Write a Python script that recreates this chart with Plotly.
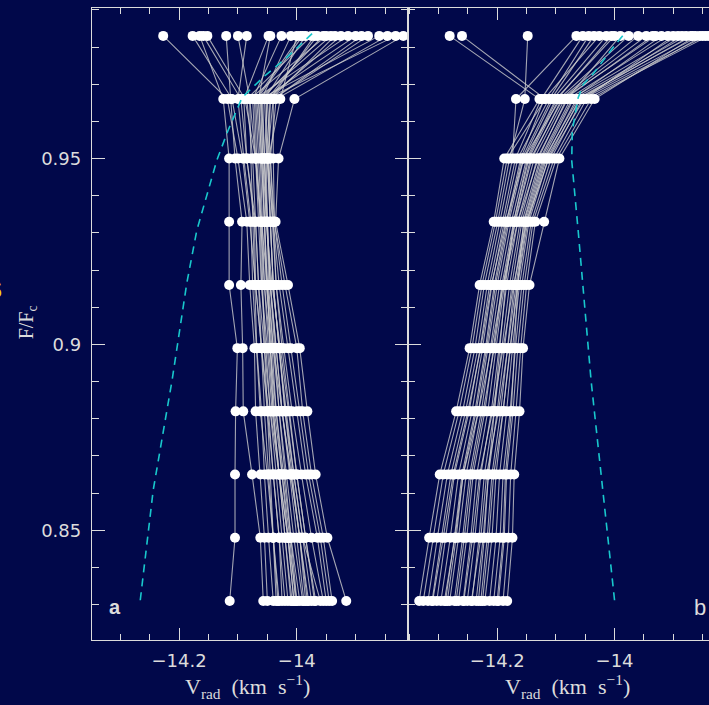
import plotly.graph_objects as go

# Flux levels (F/Fc) at which the bisector points are measured (top -> bottom)
LEVELS = [0.983, 0.966, 0.950, 0.933, 0.916, 0.899, 0.882, 0.865, 0.848, 0.831]

# Panel a: bisector velocities (km/s), one list per bisector, same order as LEVELS
PANEL_A = [
    [-14.227, -14.118, -14.100, -14.085, -14.080, -14.072, -14.070, -14.062, -14.055, -14.050],
    [-14.177, -14.110, -14.092, -14.080, -14.070, -14.060, -14.050, -14.040, -14.030, -14.020],
    [-14.159, -14.095, -14.085, -14.070, -14.065, -14.055, -14.045, -14.030, -14.015, -14.005],
    [-14.152, -14.088, -14.070, -14.060, -14.050, -14.040, -14.025, -14.010, -13.995, -13.985],
    [-14.100, -14.080, -14.078, -14.075, -14.072, -14.068, -14.060, -14.055, -14.048, -14.040],
    [-14.085, -14.100, -14.090, -14.078, -14.075, -14.068, -14.062, -14.050, -14.040, -14.030],
    [-14.048, -14.090, -14.085, -14.072, -14.070, -14.060, -14.048, -14.040, -14.030, -14.025],
    [-14.045, -14.065, -14.060, -14.055, -14.050, -14.045, -14.040, -14.030, -14.020, -14.010],
    [-14.026, -14.075, -14.070, -14.065, -14.060, -14.050, -14.042, -14.030, -14.015, -14.000],
    [-14.010, -14.060, -14.055, -14.050, -14.045, -14.035, -14.025, -14.010, -13.995, -13.980],
    [-13.994, -14.070, -14.065, -14.060, -14.058, -14.055, -14.050, -14.045, -14.040, -14.035],
    [-13.985, -14.055, -14.050, -14.045, -14.040, -14.030, -14.020, -14.005, -13.990, -13.975],
    [-13.975, -14.085, -14.075, -14.070, -14.065, -14.060, -14.055, -14.048, -14.040, -14.032],
    [-13.965, -14.050, -14.045, -14.040, -14.035, -14.025, -14.012, -14.000, -13.985, -13.968],
    [-13.950, -14.080, -14.070, -14.062, -14.060, -14.052, -14.045, -14.035, -14.025, -14.015],
    [-13.942, -14.065, -14.060, -14.055, -14.052, -14.042, -14.035, -14.022, -14.010, -13.995],
    [-13.935, -14.045, -14.048, -14.045, -14.040, -14.030, -14.018, -14.005, -13.990, -13.960],
    [-13.913, -14.072, -14.068, -14.062, -14.055, -14.048, -14.040, -14.030, -14.020, -14.008],
    [-13.900, -14.058, -14.055, -14.050, -14.048, -14.040, -14.030, -14.018, -14.005, -13.990],
    [-13.879, -14.040, -14.050, -14.040, -14.030, -14.015, -14.000, -13.985, -13.965, -13.950],
    [-13.860, -14.062, -14.058, -14.052, -14.045, -14.035, -14.025, -14.012, -14.000, -13.988],
    [-13.846, -14.035, -14.045, -14.038, -14.020, -14.000, -13.990, -13.975, -13.955, -13.940],
    [-13.832, -14.052, -14.050, -14.045, -14.040, -14.030, -14.020, -14.008, -13.995, -13.982],
    [-13.819, -14.004, -14.031, -14.036, -14.015, -13.995, -13.982, -13.968, -13.948, -13.916],
    [-14.165, -14.125, -14.115, -14.115, -14.115, -14.101, -14.104, -14.105, -14.105, -14.114],
    [-14.120, -14.112, -14.105, -14.093, -14.095, -14.092, -14.091, -14.076, -14.062, -14.057],
    [-13.990, -14.068, -14.062, -14.058, -14.055, -14.045, -14.038, -14.025, -14.012, -14.002],
    [-13.970, -14.045, -14.052, -14.050, -14.045, -14.038, -14.030, -14.020, -14.010, -14.000],
    [-13.955, -14.060, -14.058, -14.055, -14.050, -14.045, -14.035, -14.025, -14.015, -14.005],
    [-13.925, -14.050, -14.055, -14.052, -14.042, -14.028, -14.015, -14.000, -13.985, -13.970],
    [-13.890, -14.040, -14.040, -14.038, -14.025, -14.010, -13.995, -13.980, -13.960, -13.945],
    [-14.000, -14.028, -14.048, -14.042, -14.035, -14.022, -14.008, -13.992, -13.975, -13.955],
]

# Panel b: bisector velocities (km/s)
PANEL_B = [
    [-14.281, -14.128, -14.188, -14.206, -14.230, -14.247, -14.270, -14.298, -14.316, -14.333],
    [-14.260, -14.118, -14.183, -14.203, -14.226, -14.243, -14.265, -14.292, -14.309, -14.326],
    [-14.148, -14.153, -14.179, -14.199, -14.222, -14.238, -14.259, -14.285, -14.302, -14.318],
    [-14.065, -14.168, -14.174, -14.195, -14.217, -14.233, -14.254, -14.279, -14.295, -14.311],
    [-14.054, -14.125, -14.169, -14.191, -14.213, -14.229, -14.248, -14.273, -14.288, -14.303],
    [-14.044, -14.112, -14.165, -14.188, -14.209, -14.225, -14.243, -14.266, -14.280, -14.296],
    [-14.026, -14.120, -14.160, -14.184, -14.205, -14.220, -14.238, -14.260, -14.273, -14.288],
    [-14.014, -14.105, -14.155, -14.180, -14.200, -14.216, -14.232, -14.253, -14.266, -14.281],
    [-14.000, -14.100, -14.150, -14.176, -14.196, -14.211, -14.227, -14.247, -14.259, -14.273],
    [-13.976, -14.095, -14.146, -14.172, -14.192, -14.206, -14.221, -14.241, -14.252, -14.266],
    [-13.946, -14.090, -14.141, -14.169, -14.188, -14.202, -14.216, -14.235, -14.245, -14.258],
    [-13.935, -14.085, -14.137, -14.165, -14.184, -14.197, -14.210, -14.228, -14.238, -14.251],
    [-13.909, -14.080, -14.132, -14.161, -14.179, -14.192, -14.205, -14.222, -14.231, -14.243],
    [-13.892, -14.075, -14.127, -14.158, -14.175, -14.188, -14.200, -14.215, -14.224, -14.236],
    [-13.878, -14.070, -14.122, -14.154, -14.171, -14.183, -14.194, -14.209, -14.217, -14.228],
    [-13.867, -14.065, -14.118, -14.150, -14.166, -14.178, -14.189, -14.202, -14.209, -14.221],
    [-13.855, -14.060, -14.113, -14.146, -14.162, -14.174, -14.184, -14.196, -14.202, -14.213],
    [-13.845, -14.055, -14.108, -14.142, -14.158, -14.169, -14.178, -14.190, -14.195, -14.206],
    [-13.840, -14.048, -14.103, -14.139, -14.154, -14.165, -14.173, -14.184, -14.188, -14.198],
    [-13.850, -14.040, -14.099, -14.135, -14.150, -14.160, -14.168, -14.177, -14.181, -14.190],
    [-13.862, -14.034, -14.094, -14.120, -14.145, -14.156, -14.162, -14.171, -14.174, -14.183],
    [-13.990, -14.082, -14.130, -14.165, -14.190, -14.210, -14.232, -14.258, -14.272, -14.290],
    [-14.005, -14.098, -14.148, -14.172, -14.186, -14.195, -14.205, -14.215, -14.222, -14.232],
    [-13.900, -14.052, -14.112, -14.150, -14.172, -14.190, -14.208, -14.230, -14.242, -14.257],
    [-13.960, -14.092, -14.155, -14.185, -14.210, -14.228, -14.250, -14.275, -14.292, -14.310],
    [-13.920, -14.072, -14.125, -14.155, -14.165, -14.170, -14.176, -14.186, -14.190, -14.200],
    [-13.930, -14.088, -14.143, -14.170, -14.190, -14.205, -14.224, -14.244, -14.256, -14.270],
    [-13.870, -14.062, -14.120, -14.152, -14.168, -14.182, -14.198, -14.218, -14.228, -14.244],
    [-14.035, -14.108, -14.158, -14.182, -14.203, -14.218, -14.236, -14.258, -14.270, -14.285],
    [-13.885, -14.058, -14.116, -14.148, -14.165, -14.177, -14.190, -14.206, -14.214, -14.225],
]

# Model bisectors (dashed cyan)
MODEL_A_X = [-14.266, -14.244, -14.212, -14.187, -14.170, -14.136, -14.117, -14.093, -14.057, -14.017, -13.974]
MODEL_A_Y = [0.8312, 0.8608, 0.8903, 0.9164, 0.9306, 0.9495, 0.9575, 0.9664, 0.9719, 0.9772, 0.9836]
MODEL_B_X = [-14.000, -14.020, -14.040, -14.062, -14.073, -14.072, -14.069, -14.062, -14.053, -14.036, -14.000, -13.983]
MODEL_B_Y = [0.8312, 0.8608, 0.8903, 0.9306, 0.9495, 0.9575, 0.9602, 0.9664, 0.9700, 0.9729, 0.9804, 0.9836]

Y_TICKS = [0.85, 0.90, 0.95]
Y_TICK_TEXT = ["0.85", "0.9", "0.95"]
X_TICKS = [-14.2, -14.0]
X_TICK_TEXT = ["\u221214.2", "\u221214"]

BG = "#01084a"
FG = "#dcdcdc"


def line_xy(bisectors):
    xs, ys = [], []
    for b in bisectors:
        xs.extend(b + [None])
        ys.extend(LEVELS + [None])
    return xs, ys


def dot_xy(bisectors):
    xs, ys = [], []
    for b in bisectors:
        xs.extend(b)
        ys.extend(LEVELS)
    return xs, ys


fig = go.Figure()
for data, mx, my, xa, ya in [(PANEL_A, MODEL_A_X, MODEL_A_Y, "x", "y"),
                             (PANEL_B, MODEL_B_X, MODEL_B_Y, "x2", "y2")]:
    lx, ly = line_xy(data)
    fig.add_trace(go.Scatter(x=lx, y=ly, mode="lines", xaxis=xa, yaxis=ya,
                             line=dict(color="rgba(205,205,205,0.8)", width=1.1),
                             hoverinfo="skip", showlegend=False))
    dx, dy = dot_xy(data)
    fig.add_trace(go.Scatter(x=dx, y=dy, mode="markers", xaxis=xa, yaxis=ya,
                             marker=dict(color="white", size=10, line=dict(width=0)),
                             showlegend=False))
    fig.add_trace(go.Scatter(x=mx, y=my, mode="lines", xaxis=xa, yaxis=ya,
                             line=dict(color="#19c8cc", width=1.6, dash="8px,6px"),
                             showlegend=False))

tick_font = dict(family="DejaVu Sans, Verdana, sans-serif", size=18, color=FG)
common_axis = dict(showline=True, linecolor=FG, linewidth=1.3, ticks="inside",
                   tickcolor=FG, tickwidth=1.3, showgrid=False, zeroline=False,
                   tickfont=tick_font)

fig.update_layout(
    width=709, height=705,
    margin=dict(l=92, r=0, t=8, b=65),
    paper_bgcolor=BG, plot_bgcolor=BG,
    xaxis=dict(domain=[0, 0.5122], range=[-14.348, -13.811], anchor="y",
               tickmode="array", tickvals=X_TICKS, ticktext=X_TICK_TEXT, ticklen=12,
               mirror="allticks", ticklabelstandoff=4,
               minor=dict(tickmode="linear", tick0=0, dtick=0.05, ticklen=6, ticks="inside",
                          tickcolor=FG),
               **common_axis),
    xaxis2=dict(domain=[0.5122, 1], range=[-14.352, -13.839], anchor="y2",
                tickmode="array", tickvals=X_TICKS, ticktext=X_TICK_TEXT, ticklen=12,
                mirror="allticks", ticklabelstandoff=4,
                minor=dict(tickmode="linear", tick0=0, dtick=0.05, ticklen=6, ticks="inside",
                           tickcolor=FG),
                **common_axis),
    yaxis=dict(range=[0.8205, 0.9905], anchor="x", tickmode="array",
               tickvals=Y_TICKS, ticktext=Y_TICK_TEXT, ticklen=13, mirror="allticks",
               ticklabelstandoff=6,
               minor=dict(tickmode="linear", tick0=0, dtick=0.01, ticklen=7, ticks="inside",
                          tickcolor=FG),
               **common_axis),
    yaxis2=dict(range=[0.8205, 0.9905], anchor="x2", tickmode="array",
                tickvals=Y_TICKS, ticktext=["", "", ""], ticklen=13, mirror=False,
                minor=dict(tickmode="linear", tick0=0, dtick=0.01, ticklen=7, ticks="inside",
                           tickcolor=FG),
                **common_axis),
)

serif = "Liberation Serif, Times New Roman, serif"
title_txt = "V<sub>rad</sub>  (km  s<sup>\u22121</sup>)"
ann = [
    dict(text=title_txt, x=0.252, y=-0.074, font=dict(family=serif, size=22, color=FG)),
    dict(text=title_txt, x=0.770, y=-0.074, font=dict(family=serif, size=22, color=FG)),
    dict(text="F/F<sub>c</sub>", x=-0.105, y=0.503, textangle=-90,
         font=dict(family=serif, size=20, color=FG)),
    dict(text="<b>a</b>", x=0.0373, y=0.052,
         font=dict(family="Liberation Sans, Arial, sans-serif", size=20, color=FG)),
    dict(text="b", x=0.985, y=0.052,
         font=dict(family="Liberation Sans, Arial, sans-serif", size=22, color=FG)),
    dict(text="<b>S</b>", x=-0.1426, y=0.555, xanchor="right",
         font=dict(family="Liberation Sans, Arial, sans-serif", size=24, color="#f5d800")),
]
for a in ann:
    a.setdefault("xanchor", "center")
    fig.add_annotation(xref="paper", yref="paper", showarrow=False, yanchor="middle", **a)

fig.write_html(
    "out.html",
    config={"displayModeBar": False},
    post_script="document.body.style.margin='0';document.body.style.background='#01084a';"
                "document.documentElement.style.overflow='hidden';",
)
